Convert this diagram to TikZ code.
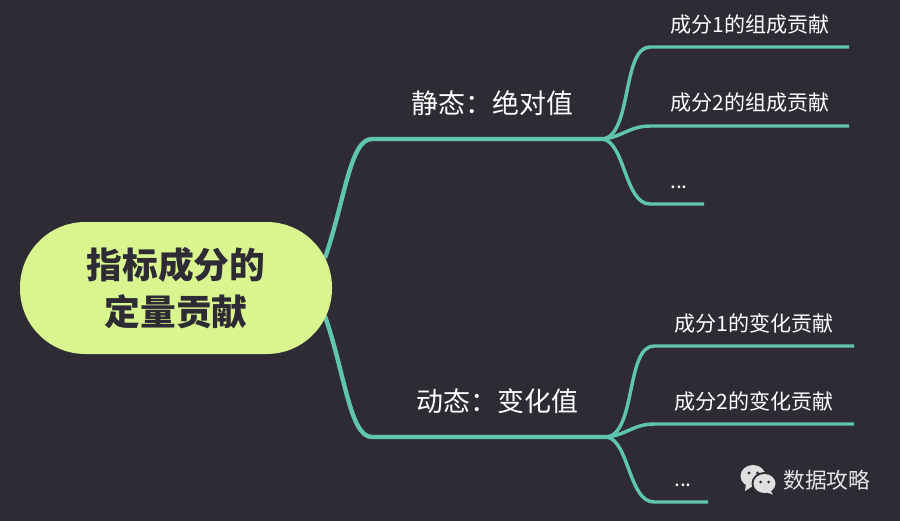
\documentclass[tikz,border=0pt]{standalone}
\usepackage{fontspec}
\usepackage{xcolor,tikz}
\setmainfont{Noto Sans CJK SC}
\definecolor{bgdark}{HTML}{2F2B35}
\definecolor{teal}{HTML}{5FC4B0}
\definecolor{lime}{HTML}{D8F58F}
\tikzset{
  rootbox/.style={fill=lime,text=bgdark,rounded corners=49pt,minimum width=234pt,minimum height=99pt,inner sep=0pt,align=center,font=\fontsize{26.8}{35}\selectfont\bfseries},
  branchtext/.style={text=white,font=\fontsize{20.2}{24}\selectfont,inner sep=0pt},
  leaftext/.style={text=white,font=\fontsize{15.8}{20}\selectfont,inner sep=0pt,anchor=west},
  trunk/.style={teal,line width=3.3pt},
  twig/.style={teal,line width=2.6pt}
}
\begin{document}
\begin{tikzpicture}[x=.75pt,y=-.75pt]
\fill[bgdark] (0,0) rectangle (900,521);
\useasboundingbox (0,0) rectangle (900,521);
% root
\coordinate (rootup) at (325,258);
\coordinate (rootdown) at (325,316);
\coordinate (static) at (603,139);
\coordinate (dynamic) at (607,437);
\coordinate (staticend) at (372,139);
\coordinate (dynamicend) at (372,437);
% ends of the leaf lines
\coordinate (sa) at (849,47);
\coordinate (sb) at (849,126);
\coordinate (sc) at (704,204);
\coordinate (da) at (854,346);
\coordinate (db) at (854,424);
\coordinate (dc) at (708,502);
\draw[trunk] (rootup) .. controls (345,200) and (350,139) .. (staticend) -- (static);
\draw[trunk] (rootdown) .. controls (345,374) and (350,437) .. (dynamicend) -- (dynamic);
\draw[twig] (static) .. controls (632,135) and (622,47) .. (650,47) -- (sa);
\draw[twig] (static) .. controls (622,137) and (630,126) .. (650,126) -- (sb);
\draw[twig] (static) .. controls (625,143) and (625,204) .. (650,204) -- (sc);
\draw[twig] (dynamic) .. controls (636,433) and (626,346) .. (654,346) -- (da);
\draw[twig] (dynamic) .. controls (626,435) and (634,424) .. (654,424) -- (db);
\draw[twig] (dynamic) .. controls (629,441) and (629,502) .. (654,502) -- (dc);
\node[rootbox] (root) at (176,288) {指标成分的\\定量贡献};
\node[branchtext] (statictext) at (492.5,103) {静态\symbol{"FF1A}绝对值};
\node[branchtext] (dynamictext) at (497.5,401) {动态\symbol{"FF1A}变化值};
\node[leaftext] (sat) at (670,25) {成分1的组成贡献};
\node[leaftext] (sbt) at (670,103) {成分2的组成贡献};
\node[leaftext] (sct) at (670,187) {...};
\node[leaftext] (dat) at (674,323) {成分1的变化贡献};
\node[leaftext] (dbt) at (674,401) {成分2的变化贡献};
\node[leaftext] (dct) at (674,485) {...};
% logo
\fill[white!88!black] (753,476) ellipse (12.5 and 11);
\fill[white!88!black] (746,484) -- (745,491) -- (753,486) -- cycle;
\fill[bgdark] (764.5,483.5) ellipse (13 and 11.5);
\fill[white!88!black] (764.5,483.5) ellipse (11 and 9.5);
\fill[white!88!black] (770,490) -- (773,494.5) -- (765,492) -- cycle;
\fill[bgdark] (749,473) circle (1.6) (757.5,473) circle (1.6) (760.5,482) circle (1.5) (768.5,482) circle (1.5);
\node[text=white!90!black,font=\fontsize{16.3}{20}\selectfont,inner sep=0pt,anchor=west] (mark) at (783,480) {数据攻略};
\end{tikzpicture}
\end{document}
